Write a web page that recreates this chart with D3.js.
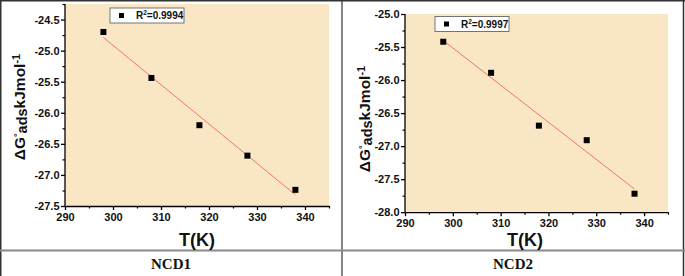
<!DOCTYPE html>
<html><head><meta charset="utf-8">
<script src="https://cdn.jsdelivr.net/npm/d3@7"></script>
<style>
html,body{margin:0;padding:0;background:#fff;}
svg{display:block;}
</style></head>
<body>
<svg id="chart" width="685" height="276"></svg>
<script>
const temperatures = [298, 308, 318, 328, 338];
const ncd1Values = [-24.70, -25.44, -26.20, -26.69, -27.24];
const ncd2Values = [-25.42, -25.89, -26.69, -26.91, -27.72];
const panelLabels = ["NCD1", "NCD2"];
const r2Labels = ["0.9994", "0.9997"];
const xTicks = [290, 300, 310, 320, 330, 340];
const ncd1YTicks = [-27.5, -27.0, -26.5, -26.0, -25.5, -25.0, -24.5];
const ncd2YTicks = [-28.0, -27.5, -27.0, -26.5, -26.0, -25.5, -25.0];
const xDomain = [290, 345];
const ncd1YDomain = [-27.5, -24.25];
const ncd2YDomain = [-28.0, -25.0];

const svg = d3.select("#chart");
const FONT = "'Liberation Sans', Arial, sans-serif";

// table frame
const frame = svg.append("g");
frame.append("line").attr("x1",0.75).attr("x2",0.75).attr("y1",0).attr("y2",276).attr("stroke","#333").attr("stroke-width",1.5);
frame.append("line").attr("x1",683.5).attr("x2",683.5).attr("y1",0).attr("y2",276).attr("stroke","#333").attr("stroke-width",1.5);
frame.append("line").attr("x1",0).attr("x2",685).attr("y1",0.75).attr("y2",0.75).attr("stroke","#333").attr("stroke-width",1.5);
frame.append("line").attr("x1",342).attr("x2",342).attr("y1",0).attr("y2",276).attr("stroke","#333").attr("stroke-width",1.2);
frame.append("line").attr("x1",0).attr("x2",685).attr("y1",250.5).attr("y2",250.5).attr("stroke","#8a8a8a").attr("stroke-width",2);

function fit(xs, ys){
  const mx = d3.mean(xs), my = d3.mean(ys);
  let sxy = 0, sxx = 0;
  xs.forEach((x,i)=>{ sxy += (x-mx)*(ys[i]-my); sxx += (x-mx)*(x-mx); });
  const b = sxy/sxx, a = my - b*mx;
  return x => a + b*x;
}
const yFmt = v => d3.format(".1f")(v).replace("−","-");

function drawPanel(p){
  const x = d3.scaleLinear().domain(xDomain).range([p.left, p.right]);
  const y = d3.scaleLinear().domain(p.yDomain).range([p.bottom, p.top]);
  const g = svg.append("g");
  g.append("rect").attr("x",p.left).attr("y",p.top).attr("width",p.right-p.left).attr("height",p.bottom-p.top).attr("fill","#f9e6c5");

  // minor ticks
  const xMinor = d3.range(295, 345, 10);
  const lastY = p.yTicks[p.yTicks.length-1];
  const yMinor = p.yTicks.slice(0,-1).map(v=>v+0.25).concat(p.yDomain[1] > lastY+0.2 ? [lastY+0.25] : []);
  const xAxisMinor = d3.axisBottom(x).tickValues(xMinor.concat([345])).tickSize(2.5).tickFormat("");
  const yAxisMinor = d3.axisLeft(y).tickValues(yMinor).tickSize(2.5).tickFormat("");
  g.append("g").attr("transform",`translate(0,${p.bottom})`).call(xAxisMinor).call(s=>s.select(".domain").remove()).selectAll("line").attr("stroke","#000").attr("stroke-width",1.2);
  g.append("g").attr("transform",`translate(${p.left},0)`).call(yAxisMinor).call(s=>s.select(".domain").remove()).selectAll("line").attr("stroke","#000").attr("stroke-width",1.2);

  const xAxis = d3.axisBottom(x).tickValues(xTicks).tickSize(4).tickPadding(3).tickSizeOuter(0).tickFormat(d3.format("d"));
  const yAxis = d3.axisLeft(y).tickValues(p.yTicks).tickSize(4).tickPadding(1.5).tickSizeOuter(0).tickFormat(yFmt);
  const xg = g.append("g").attr("transform",`translate(0,${p.bottom})`).call(xAxis);
  const yg = g.append("g").attr("transform",`translate(${p.left},0)`).call(yAxis);
  [xg,yg].forEach(a=>{
    a.select(".domain").attr("stroke","#000").attr("stroke-width",1.3);
    a.selectAll(".tick line").attr("stroke","#000").attr("stroke-width",1.3);
    a.selectAll("text").attr("fill","#111").attr("font-family",FONT).attr("font-weight","bold").attr("font-size","11px");
  });
  yg.select(".domain").attr("d",`M0,${p.bottom}V${p.top}`);

  // fit line
  const f = fit(temperatures, p.values);
  const x0 = d3.min(temperatures), x1 = d3.max(temperatures);
  g.append("line").attr("x1",x(x0)).attr("y1",y(f(x0))).attr("x2",x(x1)).attr("y2",y(f(x1)))
    .attr("stroke","#f06a58").attr("stroke-width",0.9);

  // points
  g.selectAll(".pt").data(temperatures).enter().append("rect")
    .attr("x",(d)=>x(d)-3).attr("y",(d,i)=>y(p.values[i])-3).attr("width",6).attr("height",6).attr("fill","#000");

  // legend
  const lg = g.append("g");
  lg.append("rect").attr("x",p.legX).attr("y",p.legY).attr("width",74).attr("height",15).attr("fill","#fff").attr("stroke","#666").attr("stroke-width",0.9);
  lg.append("rect").attr("x",p.legX+9).attr("y",p.legY+5).attr("width",5).attr("height",5).attr("fill","#000");
  const lt = lg.append("text").attr("x",p.legX+26).attr("y",p.legY+11).attr("font-family",FONT).attr("font-weight","bold").attr("font-size","10px").attr("fill","#111");
  lt.append("tspan").text("R");
  lt.append("tspan").attr("dy",-4).attr("font-size","6.5px").text("2");
  lt.append("tspan").attr("dy",4).text("=" + p.r2);

  // y title
  const yt = g.append("text").attr("transform",`translate(${p.yTitleX},${p.yTitleY}) rotate(-90)`)
    .attr("text-anchor","middle").attr("font-family",FONT).attr("font-weight","bold").attr("font-size","15.5px").attr("fill","#111");
  yt.append("tspan").text("ΔG");
  yt.append("tspan").attr("dy",-5).attr("font-size","9px").text("°");
  yt.append("tspan").attr("dy",7).attr("font-size","14.5px").text("ads");
  yt.append("tspan").attr("dy",-2).text("kJmol");
  yt.append("tspan").attr("dy",-5).attr("font-size","11px").text("-1");

  // x title
  g.append("text").attr("x",p.xTitleX).attr("y",245.5).attr("text-anchor","middle").attr("font-family",FONT)
    .attr("font-weight","bold").attr("font-size","18px").attr("fill","#111").text("T(K)");

  // cell label
  g.append("text").attr("x",p.cellX).attr("y",269).attr("text-anchor","middle")
    .attr("font-family","'Liberation Serif','Times New Roman',serif").attr("font-weight","bold").attr("font-size","15px").attr("fill","#111").text(p.label);
}

drawPanel({left:65, right:329, top:4, bottom:206, yDomain:ncd1YDomain, yTicks:ncd1YTicks, values:ncd1Values,
  r2:r2Labels[0], legX:110, legY:8, yTitleX:25, yTitleY:107, xTitleX:197, cellX:171, label:panelLabels[0]});
drawPanel({left:405, right:668, top:14, bottom:212.2, yDomain:ncd2YDomain, yTicks:ncd2YTicks, values:ncd2Values,
  r2:r2Labels[1], legX:435, legY:16.5, yTitleX:370, yTitleY:119, xTitleX:525, cellX:513, label:panelLabels[1]});
</script>
</body></html>
